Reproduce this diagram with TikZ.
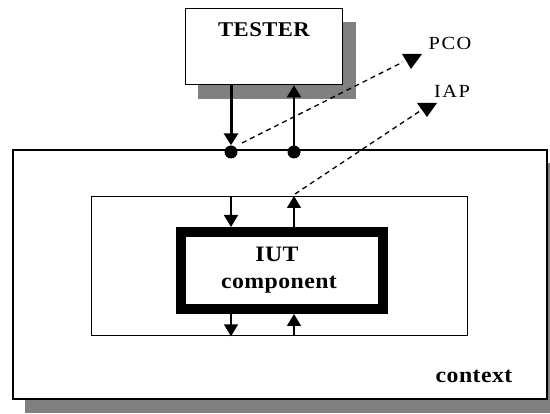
\documentclass[tikz,border=0pt]{standalone}
\usepackage{fontspec}
\setmainfont{Liberation Serif}
\newfontfamily\lblbold[FakeStretch=1.08,LetterSpace=2]{Liberation Serif}
\newfontfamily\lblreg[FakeStretch=1.1,LetterSpace=8]{Liberation Serif}
\usetikzlibrary{arrows.meta}
\definecolor{shadowgray}{HTML}{808080}
\begin{document}
\begin{tikzpicture}[x=1pt,y=-1pt,
  box/.style={draw=black,fill=white,inner sep=0pt,anchor=north west},
  dotnode/.style={circle,fill=black,inner sep=0pt,minimum size=13pt},
  boldlbl/.style={font=\fontsize{22}{24}\lblbold\bfseries,inner sep=0pt,anchor=base},
  reglbl/.style={font=\fontsize{18.5}{21}\lblreg,inner sep=0pt,anchor=base},
  sig/.style={-{Triangle[width=14pt,length=12pt]}},
  dashline/.style={line width=1.3pt,dash pattern=on 5pt off 4pt},
  tri/.style={fill=black}]
\useasboundingbox (0,0) rectangle (550,414);
% shadows
\fill[shadowgray] (25,163) rectangle (550,413);
\fill[shadowgray] (198,22) rectangle (356,99);
% boxes
\node[box,line width=2pt,minimum width=534pt,minimum height=249pt] (context) at (12,149) {};
\node[box,line width=1.3pt,minimum width=157pt,minimum height=76pt] (tester) at (185,8) {};
\node[box,line width=1.3pt,minimum width=376pt,minimum height=139pt] (inner) at (91,196) {};
\node[box,line width=10pt,minimum width=202pt,minimum height=77pt] (iut) at (176,227) {};
% labels
\node[boldlbl,font=\fontsize{21}{24}\lblbold\bfseries] (testerlbl) at (264,37) {TESTER};
\node[boldlbl] (iutlbl) at (277,262) {IUT};
\node[boldlbl] (complbl) at (279,289) {component};
\node[boldlbl] (ctxlbl) at (474,383) {context};
\node[reglbl] (pcolbl) at (450,50) {PCO};
\node[reglbl] (iaplbl) at (452,98) {IAP};
% dots
\node[dotnode] (d1) at (231,152) {};
\node[dotnode] (d2) at (294,152) {};
% tester connections
\draw[sig,line width=3pt] (tester.south -| d1) -- (d1.north);
\draw[sig,line width=2pt] (d2.center) -- (tester.south -| d2);
% inner connections
\draw[sig,line width=1.5pt] (inner.north -| d1) -- (iut.north -| d1);
\draw[sig,line width=1.5pt] (iut.north -| d2) -- (inner.north -| d2);
\draw[sig,line width=1.5pt] (iut.south -| d1) -- (inner.south -| d1);
\draw[sig,line width=1.5pt] (inner.south -| d2) -- (iut.south -| d2);
% dashed observation lines
\coordinate (pcoS) at (242,143);
\coordinate (pcoE) at (403,62);
\coordinate (iapS) at (295,194);
\coordinate (iapE) at (420,111);
\draw[dashline] (pcoS) -- (pcoE);
\draw[dashline] (iapS) -- (iapE);
\fill[tri] (402,54) -- (422,54) -- (411,69) -- cycle;
\fill[tri] (417,103) -- (437,103) -- (427,117) -- cycle;
\end{tikzpicture}
\end{document}
